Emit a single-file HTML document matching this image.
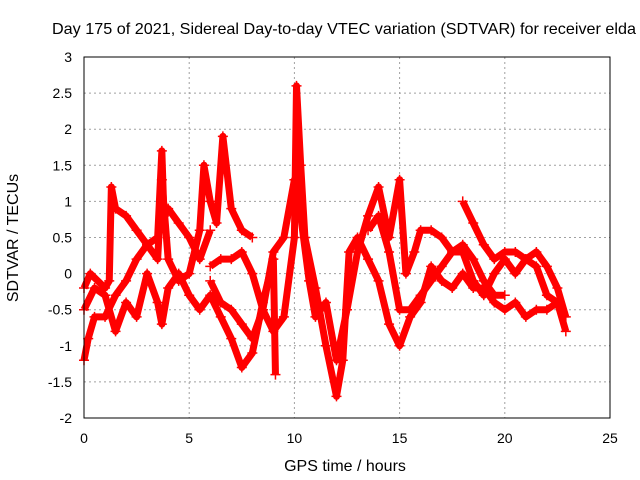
<!DOCTYPE html>
<html><head><meta charset="utf-8"><style>
body{margin:0;background:#fff;}
svg{display:block;font-family:"Liberation Sans",sans-serif;}
</style></head><body>
<svg id="chart" width="640" height="480">
<rect width="640" height="480" fill="#fff"/>
<g id="grid"></g>
<g id="series"></g>
<rect x="84" y="57" width="526" height="361" fill="none" stroke="#000" stroke-width="1"/>
<g id="axes" font-size="14" fill="#000"></g>
<text x="344" y="34" font-size="16" text-anchor="middle" textLength="584" lengthAdjust="spacingAndGlyphs">Day 175 of 2021, Sidereal Day-to-day VTEC variation (SDTVAR) for receiver elda</text>
<text x="345" y="471" font-size="16" text-anchor="middle">GPS time / hours</text>
<text x="18" y="238" font-size="16" text-anchor="middle" transform="rotate(-90 18 238)">SDTVAR / TECUs</text>
</svg>
<script>
const xTicks=[0,5,10,15,20,25];
const yTicks=[-2,-1.5,-1,-0.5,0,0.5,1,1.5,2,2.5,3];
const track1=[[0,-1.2],[0.2,-0.9],[0.5,-0.6],[1,-0.6],[1.5,-0.3],[2,-0.1],[2.5,0.2],[3,0.4],[3.5,0.5],[3.7,1.7],[3.8,0.8],[4,0.9],[4.5,0.7],[5,0.5],[5.5,0.2],[6,0.6]];
const track2=[[0,-0.2],[0.3,0],[1,-0.2],[1.2,-0.1],[1.3,1.2],[1.5,0.9],[2,0.8],[2.5,0.6],[3,0.4],[3.5,0.2],[3.7,1.3],[4,0.2],[4.5,-0.1],[5,0],[5.5,0.6],[5.7,1.5],[6,1.0],[6.3,0.7],[6.6,1.9],[7,0.9],[7.5,0.6],[8,0.5]];
const track3=[[0,-0.5],[0.5,-0.2],[1,-0.3],[1.5,-0.8],[2,-0.4],[2.5,-0.6],[3,0.0],[3.5,-0.4],[3.7,-0.7],[4,-0.2],[4.5,0.0],[5,-0.3],[5.5,-0.5],[6,-0.3],[6.5,-0.6],[7,-0.9],[7.5,-1.3],[8,-1.1],[8.5,-0.4],[9,0.2],[9.1,-1.4]];
const track4=[[6,0.1],[6.5,0.2],[7,0.2],[7.5,0.3],[8,0.0],[8.5,-0.5],[9,-0.8],[9.5,-0.6],[10,0.5],[10.1,2.6],[10.3,1.5],[10.5,0.5],[11,-0.2],[11.5,-1.0],[12,-1.7],[12.3,-1.2],[12.6,0.3],[13,0.5],[13.5,0.2],[14,-0.1],[14.5,-0.7],[15,-1.0],[15.5,-0.6],[16,-0.4],[16.5,0.1],[17,-0.1],[17.5,-0.2],[18,0.0],[18.5,-0.2],[19,-0.2],[19.5,-0.4],[20,-0.5],[20.5,-0.4],[21,-0.6],[21.5,-0.5],[22,-0.5],[22.5,-0.4],[22.9,-0.8]];
const track5=[[6,-0.1],[6.5,-0.4],[7,-0.5],[7.5,-0.7],[8,-0.9],[8.5,-0.5],[9,0.3],[9.5,0.5],[10,1.3],[10.3,0.8],[10.7,-0.1],[11,-0.6],[11.5,-0.4],[12,-1.2],[12.5,-0.5],[13,0.3],[13.5,0.8],[14,1.2],[14.5,0.5],[15,1.3],[15.3,0.0],[15.7,0.3],[16,0.6],[16.5,0.6],[17,0.5],[17.5,0.3],[18,0.4],[18.5,0.2],[19,-0.1],[19.5,-0.3],[20,-0.3]];
const track6=[[18,1.0],[18.5,0.7],[19,0.4],[19.5,0.2],[20,0.3],[20.5,0.3],[21,0.2],[21.5,0.3],[22,0.1],[22.5,-0.2],[22.9,-0.6]];
const track7=[[13.5,0.6],[14,0.8],[14.5,0.3],[15,-0.5],[15.5,-0.5],[16,-0.3],[16.5,-0.1],[17,0.1],[17.5,0.3],[18,0.3],[18.5,-0.1],[19,-0.3],[19.5,0.0],[20,0.2],[20.5,0.0],[21,0.2],[21.5,0.1],[22,-0.3],[22.5,-0.4],[22.8,-0.6]];
const tracks=[track1,track2,track3,track4,track5,track6,track7];
const NS="http://www.w3.org/2000/svg";
const X=v=>84+v*(526/25);
const Y=v=>57+(3-v)*(361/5);
const grid=document.getElementById('grid'),axes=document.getElementById('axes'),ser=document.getElementById('series');
function mk(t,a,p){const e=document.createElementNS(NS,t);for(const k in a)e.setAttribute(k,a[k]);p.appendChild(e);return e;}
xTicks.forEach(t=>{
  if(t>0&&t<25){const g=mk('line',{x1:X(t),x2:X(t),y1:57,y2:418,stroke:'#a0a0a0','stroke-dasharray':'2,3'},grid);
  
  }
  const l=mk('text',{x:X(t),y:443,'text-anchor':'middle'},axes);l.textContent=t;
  
  
});
yTicks.forEach(t=>{
  if(t>-2&&t<3){const g=mk('line',{x1:84,x2:610,y1:Y(t),y2:Y(t),stroke:'#a0a0a0','stroke-dasharray':'2,3'},grid);
  
  }
  const l=mk('text',{x:72,y:Y(t)+5,'text-anchor':'end'},axes);l.textContent=t;
  
  
});
tracks.forEach((tr,i)=>{
  const pl=mk('polyline',{points:tr.map(p=>X(p[0])+','+Y(p[1])).join(' '),fill:'none',stroke:'#ff0000','stroke-width':7,'stroke-linejoin':'round'},ser);
  
  
  tr.forEach(p=>{
    const m=mk('path',{d:`M${X(p[0])-5},${Y(p[1])}h10M${X(p[0])},${Y(p[1])-5}v10`,stroke:'#ff0000','stroke-width':1.5},ser);
    
    
  });
});
</script>
</body></html>
